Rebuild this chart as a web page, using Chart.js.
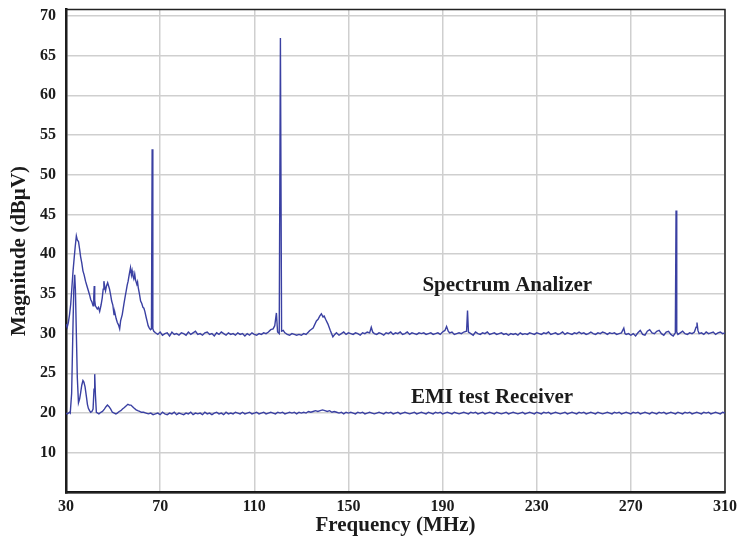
<!DOCTYPE html>
<html>
<head>
<meta charset="utf-8">
<script src="https://cdn.jsdelivr.net/npm/chart.js@4.4.1/dist/chart.umd.min.js"></script>
<style>
  body { margin: 0; background: #fff; }
  #wrap { width: 743px; height: 544px; }
</style>
</head>
<body>
<div id="wrap"><canvas id="emiChart" width="743" height="544"></canvas></div>
<script>
// [frequency MHz, magnitude dBuV]
var spectrumAnalizer = [
  [30,31.2],[30.5,30.8],[31,31.4],[31.5,32.4],[32,33.7],[32.5,35.8],[33,37.9],[33.5,39.6],[33.9,40.9],[34.4,42.3],
  [34.8,41.8],[35.3,41.6],[35.8,40.6],[36.2,39.7],[36.7,38.9],[37.2,37.9],[37.7,37.4],[38.3,36.6],[38.9,36.0],[39.5,35.4],
  [40,34.9],[40.5,34.3],[41,34.0],[41.5,33.5],[41.8,34.6],[42,36.0],[42.2,34.2],[42.5,33.5],[43.3,33.1],[43.8,33.3],
  [44.3,32.8],[44.9,33.6],[45.4,34.5],[45.8,35.6],[46.1,36.6],[46.5,35.8],[46.8,35.4],[47.2,36.0],[47.7,36.4],[48.1,36.0],
  [48.5,35.6],[49,34.8],[49.4,34.1],[49.9,33.6],[50.4,32.4],[50.8,32.6],[51.3,31.9],[51.8,31.4],[52.3,31.1],[52.8,30.6],
  [53.2,31.6],[53.9,32.4],[54.6,33.7],[55.1,34.6],[55.6,35.4],[56,36.1],[56.4,36.6],[56.9,37.5],[57.4,38.3],[57.8,37.4],
  [58.1,37.9],[58.4,37.3],[58.8,36.9],[59.2,37.5],[59.5,36.8],[60.1,36.2],[60.4,36.5],[60.7,35.8],[61.2,35.0],[61.7,34.1],
  [62.2,33.8],[62.7,33.3],[63.1,33.2],[63.5,32.8],[64.1,32.0],[64.5,31.5],[64.9,31.0],[65.4,30.7],[65.9,30.5],[66.3,30.6],
  [66.6,53.2],[66.9,30.6],[67.3,30.3],[68,30.1],[69,29.9],[70,30.2],[71,29.8],[72,30.0],[73,30.1],[74,29.7],
  [75,30.2],[76,29.9],[77,30.0],[78,29.8],[79,30.1],[80,30.0],[81,29.8],[82,30.2],[83,29.9],[84,30.1],
  [85,30.3],[86,29.9],[87,30.0],[88,29.8],[89,30.1],[90,30.2],[91,29.9],[92,30.0],[93,29.7],[94,30.1],
  [95,29.9],[96,30.2],[97,30.0],[98,29.8],[99,30.1],[100,29.9],[101,30.0],[102,29.8],[103,30.1],[104,29.9],
  [105,30.0],[106,29.7],[107,30.0],[108,29.8],[109,30.1],[110,29.9],[111,29.8],[112,30.0],[113,29.9],[114,30.1],
  [115,30.0],[116,30.2],[117,30.5],[118,30.6],[118.7,31.0],[119.4,32.6],[119.9,30.2],[120.6,30.0],[121.1,67.2],[121.6,30.3],
  [122.3,30.4],[123,30.1],[124,29.9],[125,29.8],[126,30.0],[127,29.9],[128,29.8],[129,29.9],[130,29.8],[131,30.0],
  [132,29.9],[133,30.2],[133.6,30.4],[135,30.7],[136.4,31.6],[137.1,31.8],[137.8,32.2],[138.5,32.5],[139.2,32.1],[139.7,32.2],
  [140.3,31.8],[141.3,31.2],[142.3,30.4],[143.4,29.6],[144.2,29.9],[144.9,30.1],[146,29.8],[147,30.0],[148,30.2],[149,29.9],
  [150,30.1],[151,30.0],[152,29.9],[153,30.1],[154,30.0],[155,29.8],[156,30.1],[157,30.0],[158,30.2],[159,30.1],
  [159.7,30.8],[160.3,30.2],[161,30.0],[162,29.9],[163,30.1],[164,30.0],[165,29.8],[166,30.1],[167,30.0],[168,30.2],
  [169,29.9],[170,30.1],[171,30.0],[172,30.2],[173,29.9],[174,30.0],[175,30.2],[176,29.9],[177,30.1],[178,30.0],
  [179,29.9],[180,30.1],[181,30.0],[182,30.1],[183,29.9],[184,30.0],[185,30.1],[186,29.9],[187,30.0],[188,30.1],
  [189,29.9],[190,30.2],[191,30.4],[191.7,30.9],[192.4,30.3],[193,30.1],[194,30.2],[195,29.9],[196,30.0],[197,30.1],
  [198,30.0],[199,30.2],[200.2,30.3],[200.6,32.9],[201,30.2],[202,30.0],[203,29.8],[204,30.2],[205,30.0],[206,29.9],
  [207,30.1],[208,30.0],[209,30.2],[210,29.9],[211,30.0],[212,30.1],[213,29.9],[214,30.0],[215,30.1],[216,29.9],
  [217,30.0],[218,29.8],[219,30.0],[220,29.9],[221,30.0],[222,29.8],[223,30.1],[224,29.9],[225,30.0],[226,29.9],
  [227,30.1],[228,30.0],[229,29.9],[230,30.1],[231,30.0],[232,29.9],[233,30.1],[234,30.0],[235,30.2],[236,29.9],
  [237,30.0],[238,30.1],[239,29.9],[240,30.0],[241,30.2],[242,29.9],[243,30.1],[244,30.0],[245,29.9],[246,30.1],
  [247,30.0],[248,30.2],[249,30.0],[250,30.1],[251,29.9],[252,30.0],[253,30.2],[254,30.0],[255,29.9],[256,30.1],
  [257,30.0],[258,30.2],[259,30.1],[260,29.9],[261,30.1],[262,30.0],[263,30.1],[264,29.9],[265,30.0],[266,30.1],
  [267,30.7],[267.5,30.0],[268,29.9],[269,30.0],[270,29.8],[271,30.0],[272,29.7],[273,30.1],[274,30.4],[275,29.9],
  [276,29.8],[277,30.3],[278,30.5],[279,30.1],[280,30.0],[281,30.3],[282,30.4],[283,30.0],[284,29.8],[285,30.2],
  [286,30.3],[287,29.9],[288,29.7],[288.9,30.1],[289.2,45.5],[289.5,30.2],[290,29.9],[291,30.1],[292,30.3],[293,30.0],
  [294,29.9],[295,30.1],[296,30.0],[297,30.2],[297.7,30.8],[298.1,31.4],[298.5,30.4],[299,30.0],[300,30.1],[301,29.9],
  [302,30.2],[303,30.0],[304,30.1],[305,30.2],[306,29.9],[307,30.1],[308,30.2],[309,30.0],[310,30.1]
];

var emiReceiver = [
  [30,20.0],[30.5,19.9],[31,20.0],[31.5,20.1],[31.8,20.0],[32.4,22.5],[32.9,30.0],[33.3,35.5],[33.7,37.4],[34,35.5],
  [34.4,30.0],[34.8,24.5],[35.3,21.3],[35.8,21.8],[36.2,22.5],[36.7,23.5],[37.2,24.1],[37.6,23.9],[38.1,23.3],[38.7,22.0],
  [39.1,21.1],[39.5,20.6],[40,20.3],[40.5,20.1],[41,20.2],[41.5,20.5],[41.9,23.0],[42.2,24.9],[42.5,22.3],[42.9,20.1],
  [43.5,20.0],[44,19.9],[44.8,20.1],[45.5,20.2],[46.3,20.5],[47,20.8],[47.6,21.0],[48.3,20.8],[49,20.5],[49.7,20.1],
  [50.5,20.0],[51.2,19.9],[51.8,20.0],[52.6,20.2],[53.3,20.3],[54,20.5],[54.8,20.7],[55.5,20.9],[56.3,21.1],[57,21.0],
  [57.6,21.0],[58.3,20.8],[59,20.6],[59.8,20.4],[60.5,20.3],[61.3,20.2],[62,20.1],[63,20.1],[64,20.0],[65,19.9],
  [66,20.0],[67,19.8],[68,19.9],[69,20.0],[70,19.8],[71,20.1],[72,19.9],[73,19.8],[74,20.0],[75,19.9],
  [76,20.1],[77,19.8],[78,20.0],[79,19.9],[80,19.8],[81,20.0],[82,19.9],[83,20.1],[84,19.8],[85,20.0],
  [86,19.9],[87,20.0],[88,19.8],[89,20.1],[90,19.9],[91,20.0],[92,19.8],[93,20.0],[94,20.1],[95,19.9],
  [96,20.0],[97,19.8],[98,20.1],[99,19.9],[100,20.0],[101,19.9],[102,20.1],[103,20.0],[104,19.9],[105,20.1],
  [106,19.9],[107,20.0],[108,20.1],[109,19.9],[110,20.0],[111,20.1],[112,19.9],[113,20.0],[114,20.1],[115,19.9],
  [116,20.0],[117,20.1],[118,20.0],[119,19.9],[120,20.1],[121,20.0],[122,20.1],[123,19.9],[124,20.0],[125,20.1],
  [126,20.0],[127,20.1],[128,19.9],[129,20.1],[130,20.0],[131,20.1],[132,20.0],[133,20.2],[134,20.1],[135,20.2],
  [136,20.3],[137,20.2],[138,20.3],[139,20.4],[140,20.3],[141,20.2],[142,20.3],[143,20.1],[144,20.2],[145,20.1],
  [146,20.0],[147,20.1],[148,19.9],[149,20.1],[150,20.0],[151,20.1],[152,20.0],[153,19.9],[154,20.1],[155,20.0],
  [156,20.1],[157,19.9],[158,20.0],[159,20.1],[160,20.0],[161,19.9],[162,20.0],[163,20.1],[164,20.0],[165,19.9],
  [166,20.1],[167,20.0],[168,20.1],[169,19.9],[170,20.0],[171,20.1],[172,19.9],[173,20.0],[174,20.1],[175,20.0],
  [176,19.9],[177,20.0],[178,20.1],[179,19.9],[180,20.0],[181,20.1],[182,20.0],[183,19.9],[184,20.1],[185,20.0],
  [186,19.9],[187,20.1],[188,20.0],[189,20.1],[190,19.9],[191,20.0],[192,20.1],[193,20.0],[194,19.9],[195,20.1],
  [196,20.0],[197,19.9],[198,20.0],[199,20.1],[200,20.0],[201,19.9],[202,20.1],[203,20.0],[204,20.1],[205,19.9],
  [206,20.0],[207,20.1],[208,19.9],[209,20.0],[210,20.1],[211,20.0],[212,19.9],[213,20.1],[214,20.0],[215,19.9],
  [216,20.0],[217,20.1],[218,19.9],[219,20.0],[220,20.1],[221,20.0],[222,19.9],[223,20.0],[224,20.1],[225,19.9],
  [226,20.0],[227,20.1],[228,20.0],[229,19.9],[230,20.1],[231,20.0],[232,19.9],[233,20.1],[234,20.0],[235,20.1],
  [236,19.9],[237,20.0],[238,20.1],[239,20.0],[240,19.9],[241,20.0],[242,20.1],[243,19.9],[244,20.0],[245,20.1],
  [246,20.0],[247,19.9],[248,20.1],[249,20.0],[250,20.1],[251,19.9],[252,20.0],[253,20.1],[254,20.0],[255,19.9],
  [256,20.1],[257,20.0],[258,19.9],[259,20.0],[260,20.1],[261,20.0],[262,19.9],[263,20.1],[264,20.0],[265,20.1],
  [266,19.9],[267,20.0],[268,20.1],[269,20.0],[270,19.9],[271,20.1],[272,20.0],[273,20.1],[274,19.9],[275,20.0],
  [276,20.1],[277,20.0],[278,19.9],[279,20.1],[280,20.0],[281,19.9],[282,20.1],[283,20.0],[284,20.1],[285,19.9],
  [286,20.0],[287,20.1],[288,20.0],[289,19.9],[290,20.1],[291,20.0],[292,19.9],[293,20.1],[294,20.0],[295,20.1],
  [296,19.9],[297,20.0],[298,20.1],[299,20.0],[300,19.9],[301,20.1],[302,20.0],[303,20.1],[304,19.9],[305,20.0],
  [306,20.1],[307,20.0],[308,19.9],[309,20.1],[310,20.0]
];

// y ticks as printed on the original (the 15 position is labelled "10")
var yTickValues = [15, 20, 25, 30, 35, 40, 45, 50, 55, 60, 65, 70];
var yTickLabels = ['10', '20', '25', '30', '35', '40', '45', '50', '55', '60', '65', '70'];
var xTickValues = [30, 70, 110, 150, 190, 230, 270, 310];

// text notes placed in data coordinates
var notes = [
  { text: 'Spectrum Analizer', x: 217.5, y: 36.1 },
  { text: 'EMI test Receiver', x: 211, y: 22.0 }
];

var serif = '"Liberation Serif", "DejaVu Serif", serif';
var inkColor = '#1b1b1b';
var lineColor = '#3a40a2';

function toPoints(rows) {
  return rows.map(function (r) { return { x: r[0], y: r[1] }; });
}

var frameAndNotes = {
  id: 'frameAndNotes',
  beforeDatasetsDraw: function (chart) {
    var a = chart.chartArea, ctx = chart.ctx;
    ctx.save();
    ctx.strokeStyle = '#222';
    ctx.lineWidth = 1.5;
    ctx.strokeRect(a.left, a.top, a.right - a.left, a.bottom - a.top);
    ctx.restore();
  },
  afterDatasetsDraw: function (chart) {
    var ctx = chart.ctx, xs = chart.scales.x, ys = chart.scales.y;
    ctx.save();
    ctx.font = 'bold 21px ' + serif;
    ctx.fillStyle = inkColor;
    ctx.textAlign = 'center';
    ctx.textBaseline = 'middle';
    notes.forEach(function (n) {
      ctx.fillText(n.text, xs.getPixelForValue(n.x), ys.getPixelForValue(n.y));
    });
    ctx.restore();
  }
};

new Chart(document.getElementById('emiChart'), {
  type: 'line',
  data: {
    datasets: [{
      label: 'Spectrum Analizer',
      data: toPoints(spectrumAnalizer),
      borderColor: lineColor,
      borderWidth: 1.4,
      pointRadius: 0,
      tension: 0
    }, {
      label: 'EMI test Receiver',
      data: toPoints(emiReceiver),
      borderColor: lineColor,
      borderWidth: 1.4,
      pointRadius: 0,
      tension: 0
    }]
  },
  options: {
    responsive: false,
    animation: false,
    layout: { padding: { top: 9.5, right: 18, left: 0, bottom: 0 } },
    plugins: {
      legend: { display: false },
      tooltip: { enabled: false }
    },
    scales: {
      x: {
        type: 'linear',
        min: 30,
        max: 310,
        afterBuildTicks: function (s) { s.ticks = xTickValues.map(function (v) { return { value: v }; }); },
        afterFit: function (s) {
          s.height = 51.5;
          s.paddingLeft = 0;
          s.paddingRight = 0;
        },
        grid: { color: '#cfcfcf', lineWidth: 1.5, drawTicks: false },
        border: { display: true, color: '#111', width: 2.5 },
        ticks: { padding: 5, color: inkColor, font: { family: serif, size: 16, weight: 'bold' }, maxRotation: 0 },
        title: {
          display: true,
          text: 'Frequency (MHz)',
          color: inkColor,
          font: { family: serif, size: 21, weight: 'bold' },
          padding: { top: 0, bottom: 6 }
        }
      },
      y: {
        type: 'linear',
        min: 10,
        max: 70.8,
        afterBuildTicks: function (s) { s.ticks = yTickValues.map(function (v) { return { value: v }; }); },
        afterFit: function (s) {
          s.width = 66;
          s.paddingTop = 0;
          s.paddingBottom = 0;
        },
        grid: { color: '#cfcfcf', lineWidth: 1.5, drawTicks: false },
        border: { display: true, color: '#111', width: 2.5 },
        ticks: {
          padding: 10,
          color: inkColor,
          font: { family: serif, size: 16, weight: 'bold' },
          callback: function (v) {
            var i = yTickValues.indexOf(v);
            return i >= 0 ? yTickLabels[i] : '';
          }
        },
        title: {
          display: true,
          text: 'Magnitude (dBµV)',
          color: inkColor,
          font: { family: serif, size: 21, weight: 'bold' },
          padding: { top: 7, bottom: 0 }
        }
      }
    }
  },
  plugins: [frameAndNotes]
});
</script>
</body>
</html>
